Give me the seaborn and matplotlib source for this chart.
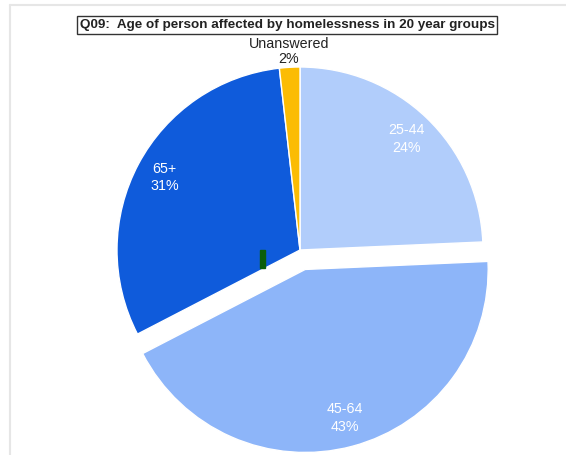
import numpy as np
import matplotlib
matplotlib.use("Agg")
import matplotlib.pyplot as plt
import seaborn as sns

# data
groups = ["25-44", "45-64", "65+", "Unanswered"]
shares = [24.3, 43.1, 30.8, 1.8]
colours = ["#b1cdfb", "#8db5f9", "#0f5bdb", "#fbbc04"]
explode = [0, 0.11, 0, 0]
title = "Q09:  Age of person affected by homelessness in 20 year groups"

sns.set_theme(style="white")
plt.rcParams["font.family"] = ["Liberation Sans", "DejaVu Sans"]

W, H = 566, 455
fig = plt.figure(figsize=(W / 100, H / 100), dpi=100)
ax = fig.add_axes([0, 0, 1, 1])

# screenshot frame
ax.plot([10, W], [H - 5, H - 5], color="#e6e6e6", lw=1.5)
ax.plot([10, 10], [0, H - 5], color="#e6e6e6", lw=1.5)

cx, cy, r = 300, H - 250, 183
wedges, _ = ax.pie(shares, colors=colours, explode=[e * r for e in explode],
                   startangle=90, counterclock=False, center=(cx, cy),
                   radius=r, frame=True,
                   wedgeprops=dict(edgecolor="white", linewidth=1))
ax.set_xlim(0, W)
ax.set_ylim(0, H)
ax.set_aspect("equal")
ax.axis("off")

total = sum(shares)
for w, g, v in zip(wedges, groups, shares):
    mid = np.deg2rad((w.theta1 + w.theta2) / 2)
    wx, wy = w.center
    lab = f"{g}\n{round(v / total * 100):.0f}%"
    if v / total < 0.05:
        d, col, ls = 1.085 * r, "#222222", 1.12
    else:
        d, col, ls = 0.84 * r, "white", 1.3
    ax.text(wx + d * np.cos(mid), wy + d * np.sin(mid), lab, ha="center",
            va="center", color=col, fontsize=10.3, linespacing=ls)

# small dark green marker inside the chart
ax.add_patch(plt.Rectangle((260, H - 268), 5, 18, color="#0b5e0b"))

ax.text(287, H - 25, title, ha="center", va="center", fontsize=9.7,
        fontweight="bold", color="#222222",
        bbox=dict(boxstyle="square,pad=0.2", fc="white", ec="#333333", lw=1))

fig.savefig("out.png", dpi=100)
